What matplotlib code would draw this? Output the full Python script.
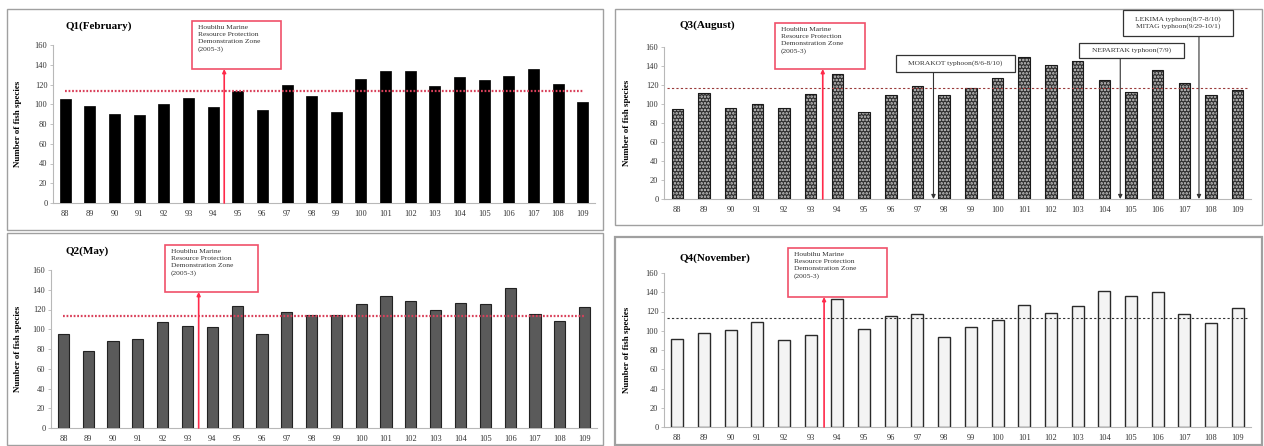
import matplotlib.pyplot as plt
from matplotlib.patches import Rectangle

plt.rcParams['font.family'] = 'Liberation Serif'
plt.rcParams['hatch.linewidth'] = 1.2

years = ['88', '89', '90', '91', '92', '93', '94', '95', '96', '97', '98',
         '99', '100', '101', '102', '103', '104', '105', '106', '107', '108', '109']

q1_feb = [105, 98, 90, 89, 100, 106, 97, 113, 94, 120, 108,
          92, 126, 134, 134, 118, 128, 125, 129, 136, 121, 102]
q2_may = [95, 78, 88, 90, 107, 103, 102, 124, 95, 117, 114,
          114, 126, 134, 129, 119, 127, 126, 142, 115, 108, 123]
q3_aug = [95, 112, 96, 100, 96, 111, 132, 92, 110, 119, 109,
          117, 127, 149, 141, 145, 125, 113, 136, 122, 109, 115]
q4_nov = [91, 98, 101, 109, 90, 96, 133, 102, 115, 117, 93,
          104, 111, 127, 118, 126, 141, 136, 140, 117, 108, 124]

# long-term average line for each quarter
averages = [113.5, 113, 116.5, 113.5]

titles = ['Q1(February)', 'Q2(May)', 'Q3(August)', 'Q4(November)']
zone_text = 'Houbihu Marine\nResource Protection\nDemonstration Zone\n(2005-3)'
# where the zone arrow sits on the category axis
zone_pos = [6.45, 5.45, 5.45, 5.5]

typhoons = ['MORAKOT typhoon(8/6-8/10)',
            'NEPARTAK typhoon(7/9)',
            'LEKIMA typhoon(8/7-8/10)\nMITAG typhoon(9/29-10/1)']
typhoon_pos = [9.6, 16.6, 19.55]

W, H = 1264, 446
fig = plt.figure(figsize=(W / 100, H / 100), dpi=100)


def fx(x):
    return x / W


def fy(y):
    return 1 - y / H


def frame(x0, y0, x1, y1, ec, lw=1.0, z=1, fill=True):
    r = Rectangle((fx(x0), fy(y1)), (x1 - x0) / W, (y1 - y0) / H,
                  transform=fig.transFigure, facecolor='white', fill=fill,
                  edgecolor=ec, lw=lw, zorder=z)
    fig.add_artist(r)


# panel frames, kept under the axes
frame(7, 9, 603, 230, '#a0a0a0', z=-2)
frame(7, 233, 603, 445, '#a0a0a0', z=-2)
frame(615, 9, 1262, 225, '#a0a0a0', z=-2)
frame(615, 237, 1262, 445, '#a0a0a0', lw=1.6, z=-2)

# axes boxes in pixels: left, right, y of 0, y of 160
layout = [(53, 595, 203, 45), (51, 597, 428, 270),
          (664, 1251, 199, 47), (664, 1251, 427, 273)]

bar_styles = [
    dict(color='black', edgecolor='black', lw=0.5),
    dict(color='#5a5a5a', edgecolor='#222222', lw=0.8),
    dict(facecolor='#2e2e2e', edgecolor='#d0d0d0', hatch='.....', lw=0),
    dict(facecolor='#f4f4f4', edgecolor='#2a2a2a', lw=1.0),
]
avg_styles = [
    dict(color='#d9405a', lw=1.6, ls=(0, (0.8, 0.8))),
    dict(color='#d9405a', lw=1.6, ls=(0, (0.8, 0.8))),
    dict(color='#9a3a3a', lw=0.8, ls=(0, (2, 2))),
    dict(color='#333333', lw=0.8, ls=(0, (2, 2))),
]
zone_boxes = [(192, 21, 281, 69), (165, 245, 258, 292),
              (775, 23, 865, 69), (788, 248, 887, 297)]
label_x = [18, 18, 627, 627]
title_xy = [(65, 26), (65, 251), (680, 25), (680, 258)]
widths = [0.45, 0.45, 0.43, 0.45]

series = [q1_feb, q2_may, q3_aug, q4_nov]
axes = []
for i, vals in enumerate(series):
    left, right, y0, y160 = layout[i]
    ax = fig.add_axes([fx(left), fy(y0), (right - left) / W, (y0 - y160) / H])
    ax.patch.set_alpha(0)
    x = range(len(years))
    ax.bar(x, vals, width=widths[i], zorder=3, **bar_styles[i])
    if i == 2:
        # outline over the dotted fill
        ax.bar(x, vals, width=widths[i], fill=False, edgecolor='#1a1a1a',
               lw=0.8, zorder=3.5)
    if i < 2:
        ax.plot([0, len(years) - 1], [averages[i]] * 2, zorder=4, **avg_styles[i])
    else:
        ax.plot([-0.4, len(years) - 0.6], [averages[i]] * 2, zorder=4, **avg_styles[i])
    ax.set_xlim(-0.5, len(years) - 0.5)
    ax.set_ylim(0, 160)
    ax.set_yticks(range(0, 161, 20))
    ax.set_xticks(list(x))
    ax.set_xticklabels(years)
    for s in ['top', 'right']:
        ax.spines[s].set_visible(False)
    for s in ['left', 'bottom']:
        ax.spines[s].set_color('#b8b8b8')
        ax.spines[s].set_linewidth(0.8)
    ax.tick_params(axis='y', length=2, width=0.6, color='#b8b8b8',
                   labelsize=6, labelcolor='#333333', pad=2)
    ax.tick_params(axis='x', length=0, labelsize=6, labelcolor='#333333', pad=5)
    axes.append(ax)

    # y label and title
    fig.text(fx(label_x[i]), fy((y0 + y160) / 2), 'Number of fish species',
             rotation=90, ha='center', va='center', fontsize=6.5,
             fontweight='bold')
    tx, ty = title_xy[i]
    fig.text(fx(tx), fy(ty), titles[i], ha='left', va='center',
             fontsize=8, fontweight='bold')

    # protection zone box and arrow
    bx0, by0, bx1, by1 = zone_boxes[i]
    frame(bx0, by0, bx1, by1, '#f0506a', lw=1.2, z=5)
    fig.text(fx(bx0 + 6), fy(by0 + 4), zone_text, ha='left', va='top',
             fontsize=5.4, linespacing=1.5, color='#333333', zorder=6)
    ax.annotate('', xy=(zone_pos[i], fy(by1)), xytext=(zone_pos[i], 0),
                xycoords=('data', 'figure fraction'),
                textcoords='data',
                arrowprops=dict(arrowstyle='-|>', color='#ff2a4a', lw=1.2,
                                mutation_scale=5, shrinkA=0, shrinkB=0),
                annotation_clip=False, zorder=6)

# typhoon call-outs on the August panel
ax3 = axes[2]
ty_boxes = [(896, 55, 1015, 72), (1079, 43, 1184, 58), (1123, 10, 1233, 36)]
for name, pos, (bx0, by0, bx1, by1) in zip(typhoons, typhoon_pos, ty_boxes):
    frame(bx0, by0, bx1, by1, '#333333', lw=0.9, z=5)
    fig.text(fx((bx0 + bx1) / 2), fy((by0 + by1) / 2), name, ha='center',
             va='center', fontsize=5.4, linespacing=1.3, color='#333333',
             zorder=6)
    ax3.annotate('', xy=(pos, 0), xytext=(pos, fy(by1)),
                 xycoords='data', textcoords=('data', 'figure fraction'),
                 arrowprops=dict(arrowstyle='-|>', color='#333333', lw=0.8,
                                 mutation_scale=6, shrinkA=0, shrinkB=0),
                 annotation_clip=False, zorder=6)

fig.savefig('out.png', dpi=100)
